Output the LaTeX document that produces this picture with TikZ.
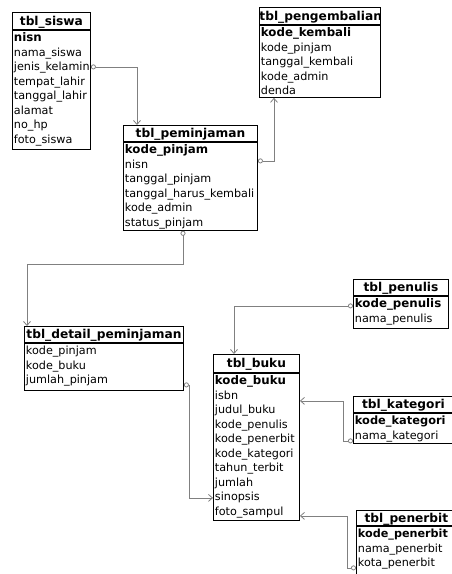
\documentclass[tikz,border=0pt]{standalone}
\usepackage{fontspec}
\setmainfont{DejaVu Sans}
\usetikzlibrary{positioning,arrows.meta}
\definecolor{linkGray}{RGB}{128,128,128}
\newcommand{\keyfld}[1]{{\fontsize{11.8}{14.5}\selectfont\bfseries #1}}
\tikzset{
  tblhead/.style={draw,line width=0.9pt,anchor=north west,inner sep=0pt,
    font=\fontsize{12.2}{14.5}\selectfont\bfseries,align=center,
    text height=10.5pt,text depth=1.5pt},
  tblbody/.style={draw,line width=0.9pt,anchor=north,inner xsep=1.5pt,inner ysep=0pt,
    font=\fontsize{11.2}{14.5}\selectfont,align=left,text height=11.5pt},
  rel/.style={draw=linkGray,line width=0.8pt,
    {Circle[open,length=5pt]}-{Straight Barb[length=4pt,width=7pt]}}
}
\begin{document}
\begin{tikzpicture}[x=1pt,y=-1pt]
\path[use as bounding box,fill=white] (0,0) rectangle (452,574);
\clip (0,0) rectangle (452,574);

% tabel siswa
\node[tblhead,minimum width=78pt,text width=78pt,minimum height=17pt] (siswaHead) at (12,12) {tbl\_siswa};
\node[tblbody,text width=75pt,text depth=107.5pt] (siswa) at (siswaHead.south) {\keyfld{nisn}\\nama\_siswa\\jenis\_kelamin\\tempat\_lahir\\tanggal\_lahir\\alamat\\no\_hp\\foto\_siswa};

% tabel peminjaman
\node[tblhead,minimum width=134pt,text width=134pt,minimum height=16pt] (pemHead) at (123,125) {tbl\_peminjaman};
\node[tblbody,text width=131pt,text depth=76.5pt] (pem) at (pemHead.south) {\keyfld{kode\_pinjam}\\nisn\\tanggal\_pinjam\\tanggal\_harus\_kembali\\kode\_admin\\status\_pinjam};

% tabel pengembalian
\node[tblhead,minimum width=121pt,text width=121pt,minimum height=17pt] (kembaliHead) at (259,7) {tbl\_pengembalian};
\node[tblbody,text width=118pt,text depth=60.5pt] (kembali) at (kembaliHead.south) {\keyfld{kode\_kembali}\\kode\_pinjam\\tanggal\_kembali\\kode\_admin\\denda};

% tabel detail peminjaman
\node[tblhead,minimum width=159pt,text width=159pt,minimum height=16pt] (detailHead) at (24,326) {tbl\_detail\_peminjaman};
\node[tblbody,text width=156pt,text depth=35.5pt] (detail) at (detailHead.south) {kode\_pinjam\\kode\_buku\\jumlah\_pinjam};

% tabel buku
\node[tblhead,minimum width=86pt,text width=86pt,minimum height=18pt] (bukuHead) at (213,354) {tbl\_buku};
\node[tblbody,text width=83pt,text depth=135.5pt] (buku) at (bukuHead.south) {\keyfld{kode\_buku}\\isbn\\judul\_buku\\kode\_penulis\\kode\_penerbit\\kode\_kategori\\tahun\_terbit\\jumlah\\sinopsis\\foto\_sampul};

% tabel penulis, kategori, penerbit
\node[tblhead,minimum width=95pt,text width=95pt,minimum height=16pt] (penulisHead) at (353,279) {tbl\_penulis};
\node[tblbody,text width=92pt,text depth=20.5pt] (penulis) at (penulisHead.south) {\keyfld{kode\_penulis}\\nama\_penulis};

\node[tblhead,minimum width=100pt,text width=100pt,minimum height=16pt] (kategoriHead) at (353,396) {tbl\_kategori};
\node[tblbody,text width=97pt,text depth=18.5pt] (kategori) at (kategoriHead.south) {{\fontsize{11.4}{14.5}\selectfont\bfseries kode\_kategori}\\nama\_kategori};

\node[tblhead,minimum width=100pt,text width=100pt,minimum height=15pt] (penerbitHead) at (356,510) {tbl\_penerbit};
\node[tblbody,text width=97pt,text depth=36.5pt] (penerbit) at (penerbitHead.south) {{\fontsize{11.2}{14.5}\selectfont\bfseries kode\_penerbit}\\nama\_penerbit\\kota\_penerbit};

% relasi
\draw[rel] ([yshift=-37pt]siswa.north east) -| ([xshift=14pt]pemHead.north west);
\draw[rel] ([yshift=-19pt]pem.north east) -| ([xshift=15pt]kembali.south west);
\draw[rel] ([xshift=60pt]pem.south west) -- ++(0,34) -| ([xshift=3pt]detailHead.north west);
\draw[rel] ([yshift=-42pt]detail.north east) -- ++(5,0) |- ([yshift=-125pt]buku.north west);
\draw[rel] ([yshift=-10pt]penulis.north west) -| ([xshift=21pt]bukuHead.north west);
\draw[rel] ([yshift=-28pt]kategori.north west) -- ++(-10,0) |- ([yshift=-28pt]buku.north east);
\draw[rel] ([yshift=-42pt]penerbit.north west) -- ++(-9,0) |- ([yshift=-143pt]buku.north east);
\end{tikzpicture}
\end{document}
